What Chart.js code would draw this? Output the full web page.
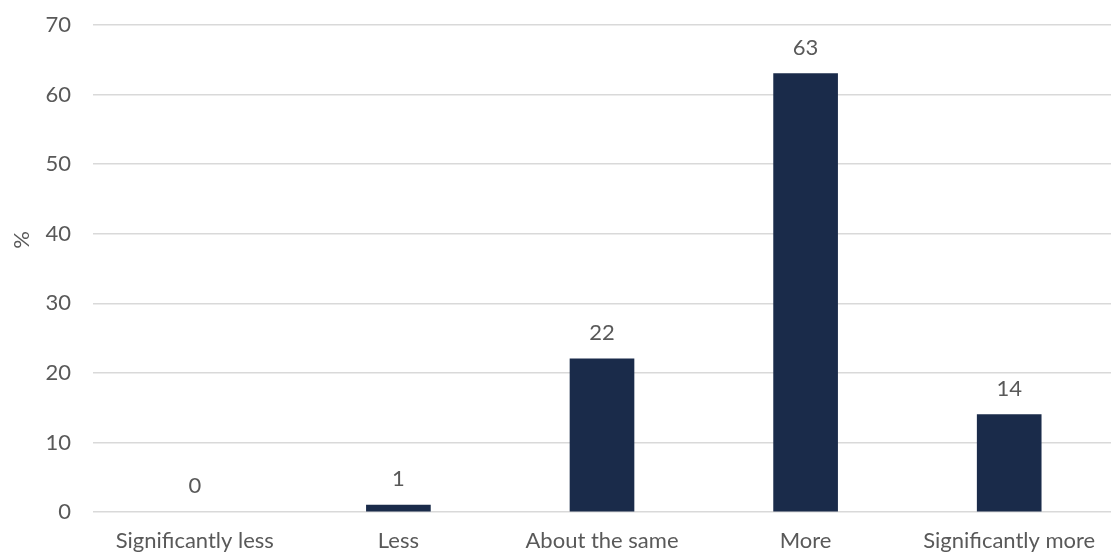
<!DOCTYPE html>
<html>
<head>
<meta charset="utf-8">
<script src="https://cdn.jsdelivr.net/npm/chart.js@4.4.1/dist/chart.umd.min.js"></script>
<style>
  html, body { margin: 0; padding: 0; background: #fff; }
  #wrap { width: 1111px; height: 554px; }
</style>
</head>
<body>
<div id="wrap"><canvas id="chart" width="1111" height="554"></canvas></div>
<script>
// categories and percentages
const categories = ['Significantly less', 'Less', 'About the same', 'More', 'Significantly more'];
const percentValues = [0, 1, 22, 63, 14];
const yTicks = [0, 10, 20, 30, 40, 50, 60, 70];

const textColor = '#595959';
const barColor = '#1a2b4a';
const fontFamily = 'Lato, "Open Sans", sans-serif';
const fontSize = 22;

// value labels above each bar, plus the rotated "%" axis title
const annotations = {
  id: 'annotations',
  afterDatasetsDraw(chart) {
    const ctx = chart.ctx;
    const meta = chart.getDatasetMeta(0);
    ctx.save();
    ctx.fillStyle = textColor;
    ctx.font = fontSize + 'px ' + fontFamily;
    ctx.textAlign = 'center';
    ctx.textBaseline = 'middle';
    meta.data.forEach((bar, i) => {
      ctx.fillText(String(percentValues[i]), bar.x, bar.y - 26);
    });
    ctx.translate(22, 240);
    ctx.rotate(-Math.PI / 2);
    ctx.fillText('%', 0, 0);
    ctx.restore();
  }
};

new Chart(document.getElementById('chart'), {
  type: 'bar',
  data: {
    labels: categories,
    datasets: [{
      data: percentValues,
      // a zero value leaves no visible sliver on the baseline
      backgroundColor: c => (c.raw === 0 ? 'rgba(0,0,0,0)' : barColor),
      barThickness: 64
    }]
  },
  options: {
    responsive: false,
    animation: false,
    layout: { padding: { top: 25, right: 0, left: 0, bottom: 0 } },
    plugins: { legend: { display: false }, tooltip: { enabled: false } },
    scales: {
      x: {
        grid: { display: false },
        border: { display: false },
        ticks: { color: textColor, font: { family: fontFamily, size: fontSize }, padding: 8, maxRotation: 0 },
        afterFit(scale) { scale.height = 42; }
      },
      y: {
        min: 0,
        max: 70,
        afterBuildTicks(scale) { scale.ticks = yTicks.map(v => ({ value: v })); },
        grid: { color: '#d9d9d9', lineWidth: 1.5, drawTicks: false },
        border: { display: false },
        ticks: { color: textColor, font: { family: fontFamily, size: fontSize }, padding: 22 },
        afterFit(scale) {
          scale.width = 93;
          scale.paddingTop = 0;
        }
      }
    }
  },
  plugins: [annotations]
});
</script>
</body>
</html>
